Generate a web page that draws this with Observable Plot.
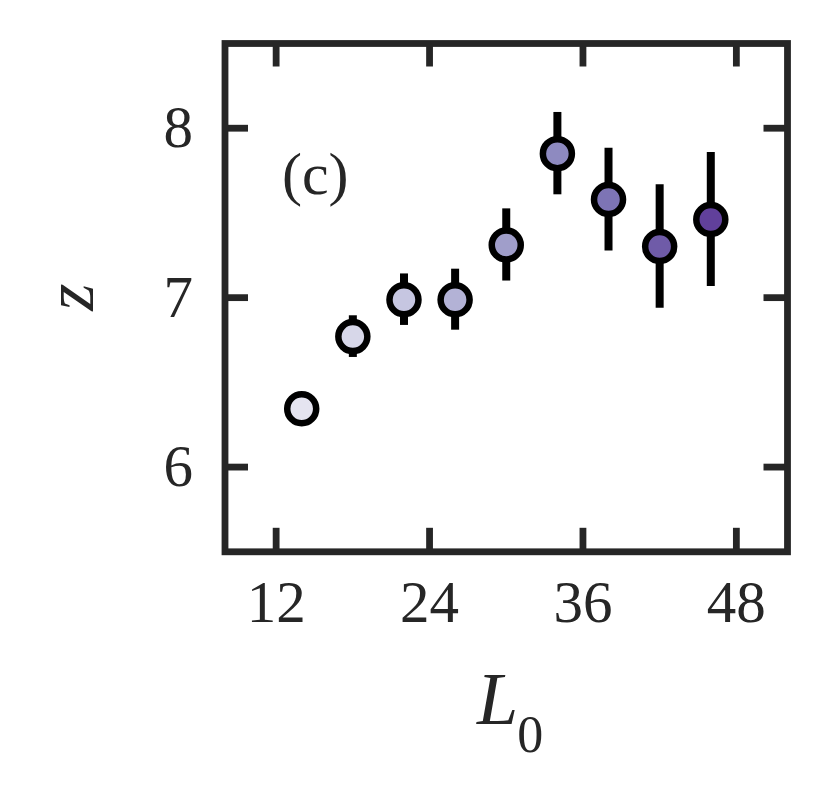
<!DOCTYPE html>
<html><head><meta charset="utf-8">
<script src="https://cdn.jsdelivr.net/npm/d3@7"></script>
<script src="https://cdn.jsdelivr.net/npm/@observablehq/plot@0.6"></script>
<style>body{margin:0;background:#fff} svg{display:block}</style>
</head><body><div id="chart"></div>
<script>
// ---- data ----
const L0 = [14, 18, 22, 26, 30, 34, 38, 42, 46];
const zMean = [6.344, 6.770, 6.988, 6.988, 7.311, 7.850, 7.579, 7.302, 7.461];
const zErr = [0.07, 0.123, 0.152, 0.180, 0.213, 0.243, 0.303, 0.365, 0.395];
const xTicks = [12, 24, 36, 48];
const yTicks = [6, 7, 8];
const xDomain = [8, 52];
const yDomain = [5.5, 8.5];
const panelLabel = "(c)";
const xLabelMain = "L", xLabelSub = "0", yLabel = "z";

const data = L0.map((x, i) => ({x, z: zMean[i], lo: zMean[i] - zErr[i], hi: zMean[i] + zErr[i]}));

// ---- layout ----
const W = 830, H = 799, mL = 224.5, mR = 43, mT = 43, mB = 247.7;
const plotH = H - mT - mB, plotW = W - mL - mR;
const ink = "#262626";
const font = "'Liberation Serif', 'DejaVu Serif', serif";
const tickLen = 23.5, frameW = 6.8;

const chart = Plot.plot({
  width: W, height: H,
  marginLeft: mL, marginRight: mR, marginTop: mT, marginBottom: mB,
  style: {fontFamily: font, background: "#fff", color: ink},
  x: {domain: xDomain},
  y: {domain: yDomain},
  color: {type: "linear", domain: [L0[0], L0[L0.length - 1]],
          interpolate: t => d3.interpolatePurples(0.18 + 0.62 * t)},
  marks: [
    Plot.axisX(xTicks, {tickSize: 0, tickPadding: 28, fontSize: 59, label: null, tickFormat: d => String(d)}),
    Plot.axisY(yTicks, {tickSize: 0, tickPadding: 32, fontSize: 59, label: null, tickFormat: d => String(d)}),
    Plot.tickX(xTicks, {x: d => d, insetTop: plotH - tickLen, stroke: ink, strokeWidth: frameW}),
    Plot.tickX(xTicks, {x: d => d, insetBottom: plotH - tickLen, stroke: ink, strokeWidth: frameW}),
    Plot.tickY(yTicks, {y: d => d, insetRight: plotW - tickLen, stroke: ink, strokeWidth: frameW}),
    Plot.tickY(yTicks, {y: d => d, insetLeft: plotW - tickLen, stroke: ink, strokeWidth: frameW}),
    Plot.frame({stroke: ink, strokeWidth: frameW}),
    Plot.ruleX(data, {x: "x", y1: "lo", y2: "hi", stroke: "#000", strokeWidth: 8}),
    Plot.dot(data, {x: "x", y: "z", r: 14.5, fill: "x", stroke: "#000", strokeWidth: 6.5}),
    Plot.text([panelLabel], {text: d => d, frameAnchor: "top-left", textAnchor: "start",
      dx: 57, dy: 108, fontSize: 60}),
    Plot.text([xLabelMain], {text: d => d, frameAnchor: "bottom", textAnchor: "end",
      dx: 12, dy: 172, fontSize: 74, fontStyle: "italic"}),
    Plot.text([xLabelSub], {text: d => d, frameAnchor: "bottom", textAnchor: "start",
      dx: 11, dy: 200, fontSize: 52}),
    Plot.text([yLabel], {text: d => d, frameAnchor: "left", rotate: -90,
      dx: -154, dy: 13, fontSize: 70, fontStyle: "italic"})
  ]
});
document.getElementById("chart").append(chart);
</script>
</body></html>
